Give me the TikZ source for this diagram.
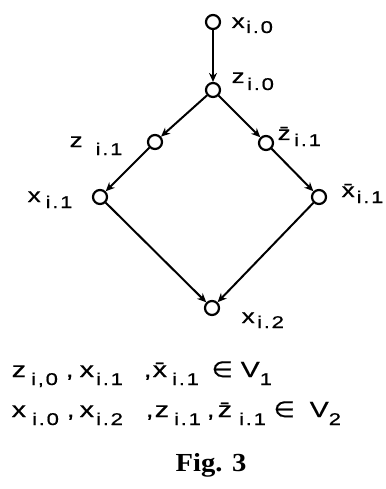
\documentclass[tikz,border=0pt]{standalone}
\usepackage{fontspec}
\setmainfont[FakeStretch=1.3,FakeBold=0.6]{Liberation Sans}
\newfontfamily\subf[FakeStretch=1.3,LetterSpace=10,FakeBold=0.6]{Liberation Sans}
\newfontfamily\djv[FakeStretch=1.1,FakeBold=0.6]{DejaVu Sans}
\newfontfamily\serifff[FakeStretch=1.1]{Liberation Serif}
\usetikzlibrary{arrows.meta}
% place content at horizontal offset #1 from the node start
\newcommand\putat[2]{\rlap{\hspace{#1}#2}}
% subscript lowered by #1
\newcommand\lsub[2]{\raisebox{-#1}{\subf\fontsize{17}{17}\selectfont #2}}
\begin{document}
\begin{tikzpicture}[x=1pt,y=-1pt,
  vtx/.style={circle,draw,line width=2.2pt,minimum size=14pt,inner sep=0pt},
  edge/.style={line width=2pt,-{Stealth[length=9pt,width=8pt]}},
  lab/.style={font=\fontsize{20}{20}\selectfont, inner sep=0pt, anchor=base west},
  bot/.style={font=\fontsize{22}{22}\selectfont, inner sep=0pt, anchor=base west}]
\useasboundingbox[fill=white] (0,0) rectangle (385,489);
\node[vtx] (x0) at (213,22) {};
\node[vtx] (z0) at (213,90) {};
\node[vtx] (z1) at (155,142) {};
\node[vtx] (zb1) at (266,143) {};
\node[vtx] (x1) at (100,197) {};
\node[vtx] (xb1) at (319,197) {};
\node[vtx] (x2) at (212,308) {};
\draw[edge] (x0) -- (z0);
\draw[edge] (z0) -- (z1);
\draw[edge] (z0) -- (zb1);
\draw[edge] (z1) -- (x1);
\draw[edge] (zb1) -- (xb1);
\draw[edge] (x1) -- (x2);
\draw[edge] (xb1) -- (x2);
\node[lab] (lx0) at (231,28) {\putat{0pt}{x}\putat{14.5pt}{\lsub{5pt}{i.0}}};
\node[lab] (lz0) at (231,83) {\putat{0pt}{z}\putat{15.5pt}{\lsub{7pt}{i.0}}};
\node[lab] (lz1) at (69,147) {\putat{0pt}{z}\putat{26pt}{\lsub{8pt}{i.1}}};
\node[lab] (lzb1) at (277,140) {\putat{0pt}{\={z}}\putat{16.5pt}{\lsub{6pt}{i.1}}};
\node[lab] (lx1) at (27,202) {\putat{0pt}{x}\putat{18pt}{\lsub{6pt}{i.1}}};
\node[lab] (lxb1) at (341,197) {\putat{0pt}{\={x}}\putat{15pt}{\lsub{6pt}{i.1}}};
\node[lab] (lx2) at (241,323) {\putat{0pt}{x}\putat{15.5pt}{\lsub{5pt}{i.2}}};
\node[bot] (line1) at (0,377) {\putat{11pt}{z}\putat{30.5pt}{\lsub{8pt}{i,0}}\putat{65pt}{,}\putat{79pt}{x}\putat{95.5pt}{\lsub{8pt}{i.1}}\putat{143pt}{,}\putat{152pt}{\={x}}\putat{171.5pt}{\lsub{8pt}{i.1}}\putat{211pt}{\djv ∈}\putat{240pt}{V}\putat{259pt}{\lsub{8pt}{1}}};
\node[bot] (line2) at (0,417) {\putat{11pt}{x}\putat{31.5pt}{\lsub{8pt}{i.0}}\putat{66pt}{,}\putat{79pt}{x}\putat{95.5pt}{\lsub{8pt}{i.2}}\putat{145pt}{,}\putat{154pt}{z}\putat{173.5pt}{\lsub{8pt}{i.1}}\putat{206pt}{,}\putat{217pt}{\={z}}\putat{238.5pt}{\lsub{8pt}{i.1}}\putat{273pt}{\djv ∈}\putat{309pt}{V}\putat{328pt}{\lsub{8pt}{2}}};
\node[inner sep=0pt,anchor=base,font=\serifff\bfseries\fontsize{26}{26}\selectfont] (fig) at (211,471) {Fig. 3};
\end{tikzpicture}
\end{document}
